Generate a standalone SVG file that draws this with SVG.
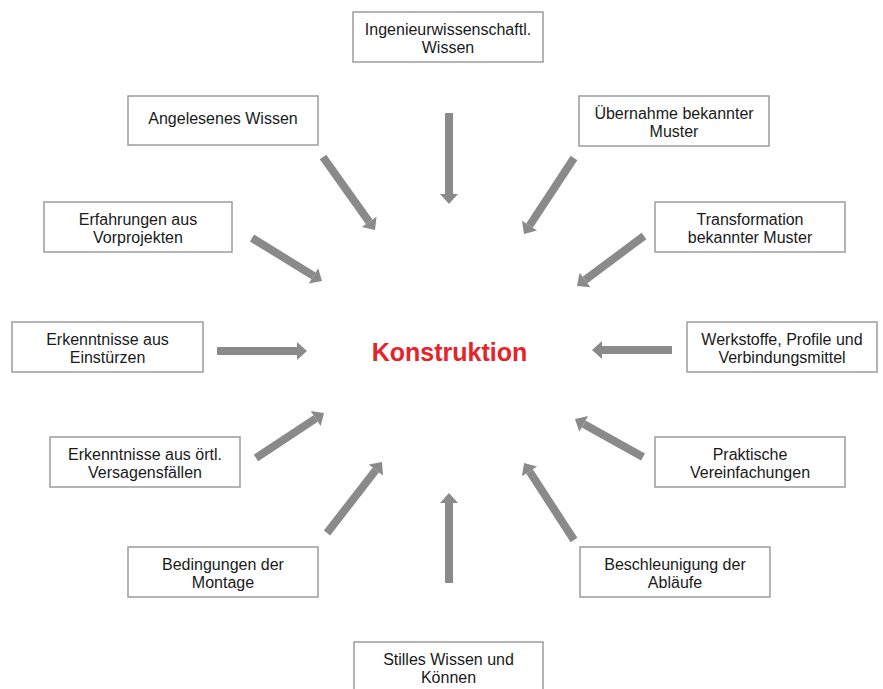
<svg xmlns="http://www.w3.org/2000/svg" width="883" height="689" viewBox="0 0 883 689">
<style>
.box{fill:#fff;stroke:#9c9c9c;stroke-width:1.5}
.t{font-family:"Liberation Sans",Arial,sans-serif;font-size:16px;fill:#1a1a1a;text-anchor:middle}
.arr{stroke:#8a8a8a;stroke-width:8;fill:none;marker-end:url(#ah)}
.title{font-family:"Liberation Sans",Arial,sans-serif;font-size:25px;font-weight:bold;fill:#e52329;text-anchor:middle}
</style>
<defs>
<marker id="ah" markerUnits="userSpaceOnUse" markerWidth="10" markerHeight="18" refX="0" refY="9" orient="auto" overflow="visible">
<path d="M0,0 L10,9 L0,18 z" fill="#8a8a8a"/>
</marker>
</defs>
<rect width="883" height="689" fill="#fff"/>
<g id="connectors">
<line class="arr" x1="449" y1="113" x2="449" y2="194"/>
<line class="arr" x1="323" y1="157" x2="369.2" y2="221.9"/>
<line class="arr" x1="252" y1="238" x2="313.5" y2="275.8"/>
<line class="arr" x1="574" y1="158" x2="529.5" y2="225.6"/>
<line class="arr" x1="644" y1="236" x2="585" y2="280"/>
<line class="arr" x1="217" y1="351" x2="297" y2="351"/>
<line class="arr" x1="672" y1="350" x2="602" y2="350"/>
<line class="arr" x1="256" y1="458" x2="315.7" y2="418.5"/>
<line class="arr" x1="643" y1="457" x2="583.7" y2="423.9"/>
<line class="arr" x1="327" y1="533" x2="375.9" y2="469.9"/>
<line class="arr" x1="449" y1="583" x2="449" y2="503"/>
<line class="arr" x1="574" y1="540" x2="529.5" y2="471.4"/>
</g>
<g id="center"><text class="title" x="449.5" y="361">Konstruktion</text></g>
<g id="n1"><rect class="box" x="353" y="12" width="190" height="50"/><text class="t" x="448" y="34.5">Ingenieurwissenschaftl.</text><text class="t" x="448" y="52.5">Wissen</text></g>
<g id="n2"><rect class="box" x="128" y="96" width="190" height="49"/><text class="t" x="223" y="123.5">Angelesenes Wissen</text></g>
<g id="n3"><rect class="box" x="579" y="96" width="190" height="50"/><text class="t" x="674" y="118.5">Übernahme bekannter</text><text class="t" x="674" y="136.5">Muster</text></g>
<g id="n4"><rect class="box" x="44" y="202" width="188" height="50"/><text class="t" x="138" y="224.5">Erfahrungen aus</text><text class="t" x="138" y="242.5">Vorprojekten</text></g>
<g id="n5"><rect class="box" x="655" y="202" width="190" height="50"/><text class="t" x="750" y="224.5">Transformation</text><text class="t" x="750" y="242.5">bekannter Muster</text></g>
<g id="n6"><rect class="box" x="12" y="322" width="191" height="50"/><text class="t" x="107.5" y="344.5">Erkenntnisse aus</text><text class="t" x="107.5" y="362.5">Einstürzen</text></g>
<g id="n7"><rect class="box" x="687" y="322" width="190" height="50"/><text class="t" x="782" y="344.5">Werkstoffe, Profile und</text><text class="t" x="782" y="362.5">Verbindungsmittel</text></g>
<g id="n8"><rect class="box" x="50" y="437" width="190" height="50"/><text class="t" x="145" y="459.5">Erkenntnisse aus örtl.</text><text class="t" x="145" y="477.5">Versagensfällen</text></g>
<g id="n9"><rect class="box" x="655" y="437" width="190" height="50"/><text class="t" x="750" y="459.5">Praktische</text><text class="t" x="750" y="477.5">Vereinfachungen</text></g>
<g id="n10"><rect class="box" x="128" y="547" width="190" height="50"/><text class="t" x="223" y="569.5">Bedingungen der</text><text class="t" x="223" y="587.5">Montage</text></g>
<g id="n11"><rect class="box" x="580" y="547" width="190" height="50"/><text class="t" x="675" y="569.5">Beschleunigung der</text><text class="t" x="675" y="587.5">Abläufe</text></g>
<g id="n12"><rect class="box" x="354" y="642" width="189" height="50"/><text class="t" x="448.5" y="664.5">Stilles Wissen und</text><text class="t" x="448.5" y="682.5">Können</text></g>
</svg>
